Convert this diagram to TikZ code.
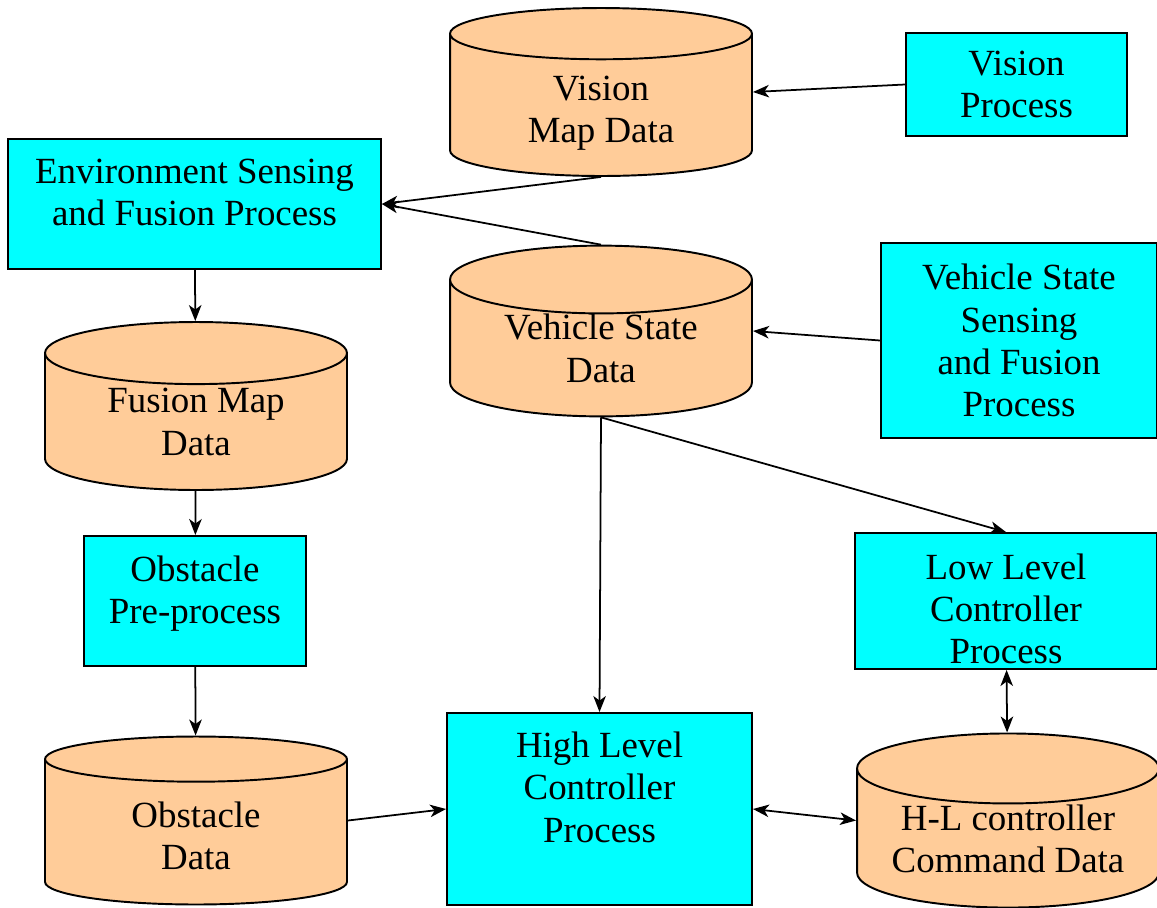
\documentclass[tikz,border=0pt]{standalone}
\usepackage{fontspec}
\setmainfont{Liberation Serif}
\usetikzlibrary{shapes.geometric,arrows.meta}

\definecolor{datafill}{RGB}{255,204,153}
\definecolor{procfill}{RGB}{0,255,255}

\tikzset{
  process/.style = {draw, line width = 1.1pt, rectangle, fill = procfill, align = center, inner sep = 0pt, font = \fontsize{21}{24}\selectfont},
  datastore/.style = {draw, line width = 1.1pt, cylinder, shape border rotate = 90, aspect = 0.35, fill = datafill, align = center, inner sep = 0pt, minimum width = 6.04cm, minimum height = 3.36cm, anchor = shape center, font = \fontsize{21}{24}\selectfont},
  flow/.style = {-{Stealth[length = 3.2mm, width = 2.5mm, inset = 0.9mm]}, line width = 1pt},
  twoflow/.style = {{Stealth[length = 3.2mm, width = 2.5mm, inset = 0.9mm]}-{Stealth[length = 3.2mm, width = 2.5mm, inset = 0.9mm]}, line width = 1pt}
}

\begin{document}
\begin{tikzpicture}[x = 0.02cm, y = -0.02cm]
  \useasboundingbox (0, 0) rectangle (1157, 907);

  % data stores
  \node (vision_map) [datastore, text height = 42.8pt, text depth = 0pt] at (601, 92) {Vision\\Map Data};
  \node (vehicle_data) [datastore] at (601, 331) {Vehicle State\\Data};
  \node (fusion_map) [datastore] at (196, 406) {Fusion Map\\Data};
  \node (obstacle_data) [datastore, text height = 42.8pt, text depth = 0pt] at (196, 820.5) {Obstacle\\Data};
  \node (command_data) [datastore] at (1008, 820.5) {\makebox[4cm]{H-L controller}\\\makebox[4cm]{Command Data}};

  % processes
  \node (vision_proc) [process, minimum width = 4.42cm, minimum height = 2.06cm] at (1016.5, 84.5) {Vision\\Process};
  \node (env_proc) [process, minimum width = 7.46cm, minimum height = 2.6cm, text depth = 13pt] at (194.5, 204) {Environment Sensing\\and Fusion Process};
  \node (vehicle_proc) [process, minimum width = 5.52cm, minimum height = 3.9cm] at (1019, 340.5) {Vehicle State\\Sensing\\and Fusion\\Process};
  \node (obstacle_proc) [process, minimum width = 4.44cm, minimum height = 2.6cm, text depth = 13pt] at (195, 601) {Obstacle\\Pre-process};
  \node (low_proc) [process, minimum width = 6.04cm, minimum height = 2.72cm, text height = 71.3pt, text depth = 0pt] at (1006, 601) {Low Level\\Controller\\Process};
  \node (high_proc) [process, minimum width = 6.1cm, minimum height = 3.84cm, text depth = 25pt] at (599.5, 809) {High Level\\Controller\\Process};

  \draw [flow] (vision_proc.west) -- (vision_map.shape center -| vision_map.east);
  \draw [flow] (vision_map.south) -- (env_proc.east);
  \draw [flow] (vehicle_data.north) -- (env_proc.east);
  \draw [flow] (vehicle_proc.west) -- (vehicle_data.shape center -| vehicle_data.east);
  \draw [flow] (env_proc) -- (fusion_map);
  \draw [flow] (fusion_map) -- (obstacle_proc);
  \draw [flow] (obstacle_proc) -- (obstacle_data);
  \draw [flow] (obstacle_data.shape center -| obstacle_data.east) -- (high_proc.west);
  \draw [flow] (vehicle_data.south) -- (high_proc.north);
  \draw [flow] (vehicle_data.south) -- (low_proc.north);
  \draw [twoflow] (high_proc.east) -- (command_data.shape center -| command_data.west);
  \draw [twoflow] (low_proc) -- (command_data);
\end{tikzpicture}
\end{document}
